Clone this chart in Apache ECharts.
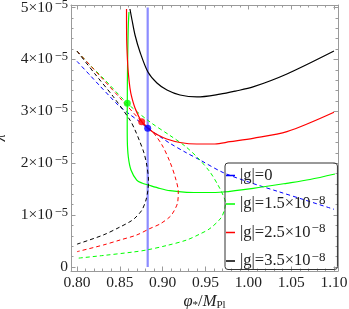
<!DOCTYPE html>
<html><head><meta charset="utf-8">
<script src="https://cdn.jsdelivr.net/npm/echarts@6/dist/echarts.min.js"></script>
<style>html,body{margin:0;padding:0;background:#fff}#c{width:349px;height:309px}</style>
</head><body><div id="c"></div>
<script>
// lambda values are given in units of 1e-5
const xMajor = [0.80, 0.85, 0.90, 0.95, 1.00, 1.05, 1.10];
const xMinor = [0.81,0.82,0.83,0.84,0.86,0.87,0.88,0.89,0.91,0.92,0.93,0.94,0.96,0.97,0.98,0.99,1.01,1.02,1.03,1.04,1.06,1.07,1.08,1.09];
const yMajor = [0, 1, 2, 3, 4, 5];
const yMinor = [0.2,0.4,0.6,0.8,1.2,1.4,1.6,1.8,2.2,2.4,2.6,2.8,3.2,3.4,3.6,3.8,4.2,4.4,4.6,4.8];

const legendNames = ['g0', 'g15', 'g25', 'g35'];
const legendLabels = ['|g|=0', '|g|=1.5×10', '|g|=2.5×10', '|g|=3.5×10'];
const legendExp = ['', '−8', '−8', '−8'];

// |g| = 0
const blueVertical = [[0.8825, 0], [0.8825, 5.0]];
const blueDashed = [[0.800,3.963],[0.8152,3.694],[0.8268,3.487],[0.8385,3.283],[0.8482,3.118],[0.8618,2.938],[0.8735,2.794],[0.8825,2.672],[0.8969,2.511],[0.9085,2.383],[0.9260,2.216],[0.9435,2.062],[0.9704,1.821],[1.0019,1.628],[1.0354,1.451],[1.0660,1.291],[1.0999,1.112]];
// |g| = 1.5e-8
const greenSolid = [[0.8607,4.913],[0.8599,4.663],[0.8593,4.181],[0.8588,3.603],[0.8587,3.160],[0.8586,2.736],[0.8587,2.447],[0.8599,2.119],[0.8630,1.869],[0.8697,1.676],[0.8758,1.618],[0.8832,1.580],[0.8969,1.513],[0.9085,1.470],[0.9280,1.439],[0.9494,1.435],[0.9704,1.445],[1.0057,1.516],[1.0447,1.613],[1.0719,1.686],[1.1010,1.792]];
const greenDashed = [[0.8000,4.160],[0.8152,3.892],[0.8327,3.603],[0.8587,3.154],[0.8852,2.794],[0.9085,2.534],[0.9260,2.331],[0.9412,2.100],[0.9552,1.830],[0.9645,1.580],[0.9704,1.387],[0.9733,1.233],[0.9721,1.098],[0.9680,0.944],[0.9552,0.742],[0.9435,0.636],[0.9280,0.520],[0.9047,0.414],[0.8813,0.328],[0.8657,0.289],[0.8307,0.222],[0.8000,0.168]];
// |g| = 2.5e-8
const redSolid = [[0.8578,4.971],[0.8580,4.374],[0.8589,3.988],[0.8599,3.738],[0.8618,3.449],[0.8638,3.276],[0.8677,3.064],[0.8755,2.800],[0.8852,2.640],[0.8945,2.543],[0.9047,2.466],[0.9202,2.399],[0.9397,2.370],[0.9610,2.370],[0.9785,2.414],[1.0054,2.480],[1.0450,2.607],[1.0999,2.981]];
const redDashed = [[0.8000,4.160],[0.8268,3.680],[0.8502,3.256],[0.8755,2.800],[0.8875,2.620],[0.8992,2.351],[0.9085,2.023],[0.9149,1.715],[0.9182,1.451],[0.9173,1.233],[0.9132,1.079],[0.9085,0.969],[0.8969,0.829],[0.8852,0.742],[0.8697,0.617],[0.8502,0.520],[0.8307,0.424],[0.8000,0.295]];
// |g| = 3.5e-8
const blackSolid = [[0.8618,4.971],[0.8642,4.759],[0.8677,4.470],[0.8735,4.143],[0.8828,3.757],[0.8933,3.545],[0.9050,3.410],[0.9202,3.314],[0.9400,3.276],[0.9669,3.330],[0.9850,3.390],[1.0054,3.470],[1.0450,3.720],[1.0999,4.162]];
const blackDashed = [[0.8000,4.160],[0.8210,3.719],[0.8424,3.281],[0.8618,2.832],[0.8677,2.640],[0.8735,2.408],[0.8782,2.197],[0.8814,1.965],[0.8834,1.676],[0.8828,1.484],[0.8805,1.291],[0.8758,1.098],[0.8677,0.944],[0.8618,0.873],[0.8502,0.771],[0.8307,0.617],[0.8000,0.440]];
// intersection dots
const greenDot = [[0.8587, 3.154]];
const redDot = [[0.8755, 2.800]];
const blueDot = [[0.8825, 2.672]];

const X_MIN = 0.793, X_MAX = 1.1046, Y_MIN = -0.077, Y_MAX = 5.048;
const FRAME = '#9a9a9a';
const SERIF = 'Liberation Serif';

function xAx(pos, vals, len, labels, line) {
  return {
    type: 'value', min: X_MIN, max: X_MAX, position: pos,
    axisLine: {show: line, onZero: false, lineStyle: {color: FRAME, width: 1}},
    axisTick: {show: true, inside: true, length: len, customValues: vals, lineStyle: {color: FRAME, width: 1}},
    axisLabel: labels ? {show: true, customValues: vals, margin: 4, color: '#222', fontFamily: SERIF, fontSize: 15.5,
      formatter: v => v.toFixed(2)} : {show: false},
    splitLine: {show: false}
  };
}
function yAx(pos, vals, len, labels, line) {
  return {
    type: 'value', min: Y_MIN, max: Y_MAX, position: pos,
    axisLine: {show: line, onZero: false, lineStyle: {color: FRAME, width: 1}},
    axisTick: {show: true, inside: true, length: len, customValues: vals, lineStyle: {color: FRAME, width: 1}},
    axisLabel: labels ? {show: true, customValues: vals, margin: 3, color: '#222', fontFamily: SERIF, fontSize: 15.5,
      formatter: v => v === 0 ? '{m|0}' : '{m|' + Math.round(v) + '×10}{s|−5}',
      rich: {m: {fontFamily: SERIF, fontSize: 15.5, color: '#222', lineHeight: 18},
             s: {fontFamily: SERIF, fontSize: 12.5, color: '#222', lineHeight: 12, verticalAlign: 'top', padding: [0, 0, 0, 2]}}} : {show: false},
    splitLine: {show: false}
  };
}

function line(name, data, color, dashed, width) {
  return {type: 'line', name, data, showSymbol: false, symbol: 'none', smooth: 0.3, silent: true,
    clip: true, lineStyle: {color, width, type: dashed ? [4, 3] : 'solid'}, itemStyle: {color}, z: 2};
}
function dot(data, color) {
  return {type: 'scatter', name: 'dot', data, symbolSize: 7, itemStyle: {color}, silent: true, z: 5};
}

const chart = echarts.init(document.getElementById('c'), null, {renderer: 'canvas'});
const xName = '{i|φ}{sb|*}{n|/}{i|M}{sb|Pl}';
const xaxes = [xAx('bottom', xMajor, 4.5, true, true), xAx('bottom', xMinor, 2.5, false, false),
               xAx('top', xMajor, 4.5, false, true), xAx('top', xMinor, 2.5, false, false)];
xaxes[0].name = xName;
xaxes[0].nameLocation = 'middle';
xaxes[0].nameGap = 22;
xaxes[0].nameMoveOverlap = false;
xaxes[0].nameTextStyle = {rich: {
  i: {fontFamily: SERIF, fontStyle: 'italic', fontSize: 16.5, color: '#222', lineHeight: 18},
  n: {fontFamily: SERIF, fontSize: 16.5, color: '#222', lineHeight: 18},
  sb: {fontFamily: SERIF, fontSize: 11, color: '#222', lineHeight: 11, verticalAlign: 'bottom'}}};
const yaxes = [yAx('left', yMajor, 4.5, true, true), yAx('left', yMinor, 2.5, false, false),
               yAx('right', yMajor, 4.5, false, true), yAx('right', yMinor, 2.5, false, false)];
yaxes[0].name = 'λ';
yaxes[0].nameLocation = 'middle';
yaxes[0].nameGap = 62;
yaxes[0].nameMoveOverlap = false;
yaxes[0].nameTextStyle = {fontFamily: SERIF, fontStyle: 'italic', fontSize: 16, color: '#222'};

chart.setOption({
  animation: false,
  backgroundColor: '#fff',
  grid: {left: 71, right: 11, top: 5, bottom: 38, containLabel: false, outerBoundsMode: 'none'},
  xAxis: xaxes,
  yAxis: yaxes,
  legend: {
    data: legendNames, orient: 'vertical', left: 225, top: 163,
    padding: [4, 12, 0, 1], itemGap: 10, itemWidth: 9, itemHeight: 1.5, icon: 'rect',
    borderColor: '#333', borderWidth: 1, borderRadius: 3, backgroundColor: 'transparent',
    selectedMode: false,
    formatter: n => { const k = legendNames.indexOf(n); return '{t|' + legendLabels[k] + '}' + (legendExp[k] ? '{s|' + legendExp[k] + '}' : ''); },
    textStyle: {rich: {
      t: {fontFamily: SERIF, fontSize: 16.5, color: '#222', lineHeight: 20},
      s: {fontFamily: SERIF, fontSize: 13, color: '#222', lineHeight: 12, verticalAlign: 'top', padding: [0, 0, 0, 1]}}}
  },
  series: [
    line('g0', blueDashed, '#0000ff', true, 1),
    line('g0', blueVertical, '#8c8cff', false, 2.2),
    line('g15', greenDashed, '#00ff00', true, 1),
    line('g15', greenSolid, '#00ff00', false, 1.2),
    line('g25', redDashed, '#ff0000', true, 1),
    line('g25', redSolid, '#ff0000', false, 1.2),
    line('g35', blackDashed, '#000000', true, 1),
    line('g35', blackSolid, '#000000', false, 1.2),
    dot(greenDot, '#00ff00'), dot(redDot, '#ff0000'), dot(blueDot, '#0000ff')
  ]
});
</script></body></html>
